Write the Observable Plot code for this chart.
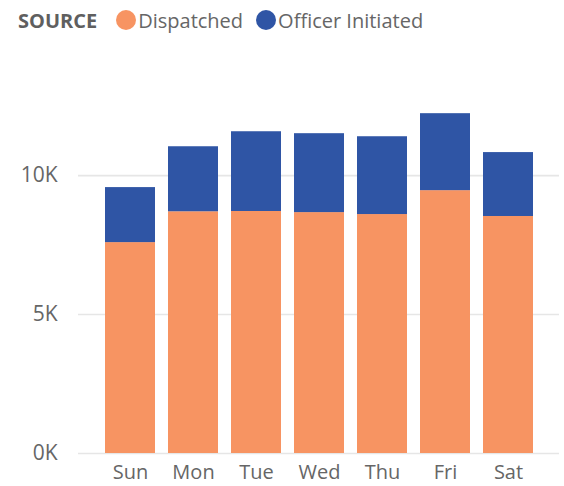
<!DOCTYPE html>
<html>
<head>
<meta charset="utf-8">
<script src="https://cdn.jsdelivr.net/npm/d3@7"></script>
<script src="https://cdn.jsdelivr.net/npm/@observablehq/plot@0.6"></script>
<style>
  html, body { margin: 0; padding: 0; background: #fff; }
  body { width: 564px; height: 486px; overflow: hidden; font-family: "Open Sans", "Noto Sans", sans-serif; }
  #legend { height: 38px; display: flex; align-items: center; padding-left: 18px; padding-top: 2px; color: #666; font-size: 20px; box-sizing: border-box; }
  #legend .title { font-weight: 700; margin-right: 19px; color: #5f5f5f; font-size: 20px; }
  #legend .sw { width: 20px; height: 20px; border-radius: 50%; display: inline-block; margin-right: 2px; }
  #legend .item { display: flex; align-items: center; margin-right: 13px; }
</style>
</head>
<body>
<div id="legend"></div>
<div id="chart"></div>
<script>
const days = ["Sun", "Mon", "Tue", "Wed", "Thu", "Fri", "Sat"];
const sources = ["Dispatched", "Officer Initiated"];
const colors = ["#F79462", "#2F55A5"];
const dispatched = [7590, 8700, 8710, 8670, 8600, 9460, 8530];
const officerInitiated = [1980, 2340, 2870, 2840, 2800, 2770, 2300];
const yTicks = [0, 5000, 10000];

const rows = [];
days.forEach((d, i) => rows.push({day: d, source: sources[0], value: dispatched[i]}));
days.forEach((d, i) => rows.push({day: d, source: sources[1], value: officerInitiated[i]}));

const legend = document.getElementById("legend");
legend.innerHTML = `<span class="title">SOURCE</span>` +
  sources.map((s, i) => `<span class="item"><span class="sw" style="background:${colors[i]}"></span>${s}</span>`).join("");

const chart = Plot.plot({
  width: 564,
  height: 448,
  marginLeft: 78,
  marginRight: 5,
  marginTop: 26,
  marginBottom: 33,
  style: {fontFamily: "'Open Sans', 'Noto Sans', sans-serif", fontSize: "20px", color: "#666", background: "#fff"},
  x: {domain: days, paddingInner: 0.21, paddingOuter: 0.4, label: null},
  y: {domain: [0, 14000], label: null},
  color: {domain: sources, range: colors},
  marks: [
    Plot.ruleY(yTicks, {stroke: "#e6e6e6", strokeWidth: 1.6}),
    Plot.axisY({ticks: yTicks, tickSize: 0, tickPadding: 21, tickFormat: d => (d / 1000) + "K", label: null, fill: "#666", fontSize: 21}),
    Plot.axisX({tickSize: 0, tickPadding: 11, label: null, fill: "#666", fontSize: 20}),
    Plot.barY(rows, Plot.stackY({x: "day", y: "value", fill: "source", order: null}))
  ]
});
document.getElementById("chart").appendChild(chart);
</script>
</body>
</html>
